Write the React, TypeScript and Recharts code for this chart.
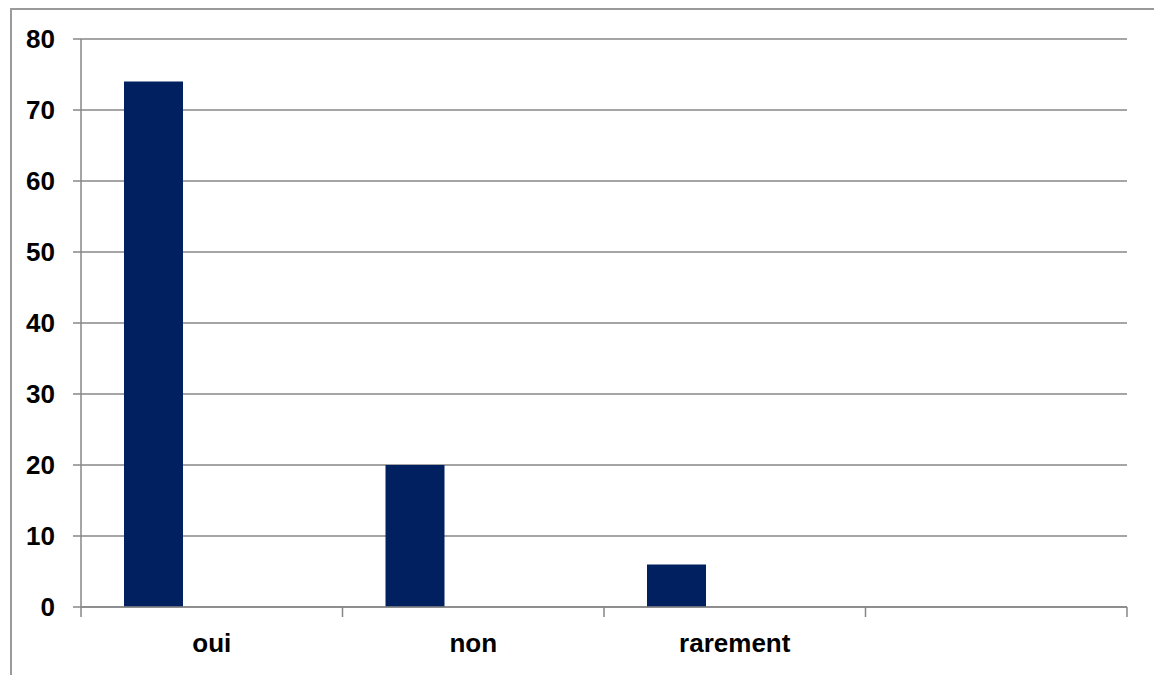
import { BarChart, Bar, XAxis, YAxis, CartesianGrid } from 'recharts'

const categories = ['oui', 'non', 'rarement', '']
const seriesA = [74, 20, 6, null]
const seriesB = [null, null, null, null]
const seriesC = [null, null, null, null]
const yTicks = [0, 10, 20, 30, 40, 50, 60, 70, 80]

const data = categories.map((name, i) => ({ name, a: seriesA[i], b: seriesB[i], c: seriesC[i] }))

const GRID = '#878787'
const BAR = '#002060'
const FONT = '"Liberation Sans", Arial, sans-serif'
const TICK_SIZE = 10
const TICK_MARGIN = 17

function CategoryTick(props: any) {
  const { x, y, payload, index } = props
  const half = payload?.offset || 1046 / categories.length / 2
  const axisY = y - TICK_SIZE - TICK_MARGIN
  return (
    <g>
      <line x1={x - half} x2={x - half} y1={axisY} y2={axisY + TICK_SIZE} stroke={GRID} strokeWidth={1.5} />
      {index === categories.length - 1 && (
        <line x1={x + half} x2={x + half} y1={axisY} y2={axisY + TICK_SIZE} stroke={GRID} strokeWidth={1.5} />
      )}
      <text x={x} y={y} dy="0.71em" textAnchor="middle" fontFamily={FONT} fontWeight="bold" fontSize={26} fill="#000">
        {payload.value}
      </text>
    </g>
  )
}

export default function App() {
  return (
    <div style={{ position: 'absolute', top: 0, left: 0, width: 1154, height: 675, overflow: 'hidden', background: '#fff' }}>
      <div
        style={{
          position: 'absolute',
          left: 10,
          top: 8,
          width: 1200,
          height: 700,
          borderLeft: '2px solid #9a9a9a',
          borderTop: '2px solid #9a9a9a',
        }}
      />
      <BarChart
        width={1154}
        height={675}
        data={data}
        margin={{ top: 39, right: 27, bottom: 18, left: 0 }}
        barGap={0}
        barCategoryGap={43}
        style={{ position: 'absolute', top: 0, left: 0 }}
      >
        <CartesianGrid vertical={false} stroke={GRID} strokeWidth={1.5} />
        <XAxis
          dataKey="name"
          height={50}
          axisLine={{ stroke: GRID, strokeWidth: 1.5 }}
          tickLine={false}
          tickSize={TICK_SIZE}
          tickMargin={TICK_MARGIN}
          interval={0}
          tick={<CategoryTick />}
        />
        <YAxis
          width={81}
          domain={[0, 80]}
          ticks={yTicks}
          interval={0}
          axisLine={{ stroke: GRID, strokeWidth: 1.5 }}
          tickLine={{ stroke: GRID, strokeWidth: 1.5 }}
          tickSize={8}
          tickMargin={18}
          tick={{ fontFamily: FONT, fontWeight: 'bold', fontSize: 26, fill: '#000' }}
        />
        <Bar dataKey="a" fill={BAR} isAnimationActive={false} />
        <Bar dataKey="b" fill={BAR} isAnimationActive={false} />
        <Bar dataKey="c" fill={BAR} isAnimationActive={false} />
      </BarChart>
    </div>
  )
}
